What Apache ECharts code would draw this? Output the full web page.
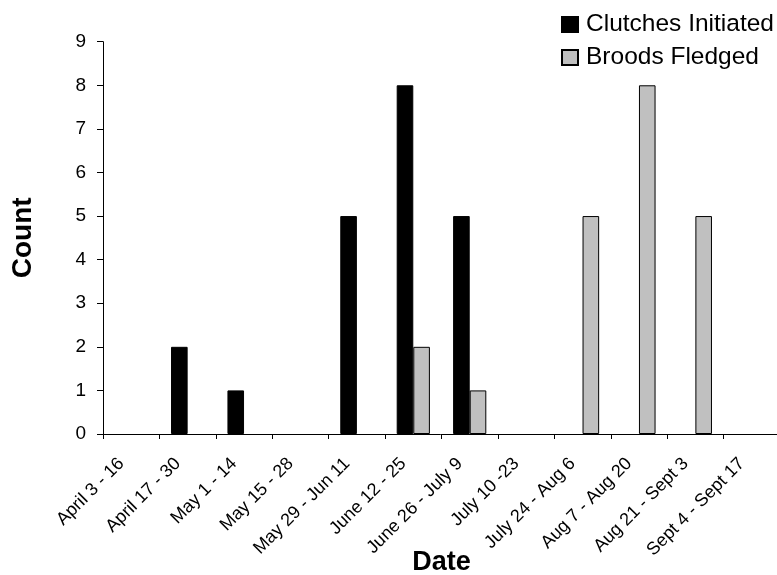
<!DOCTYPE html>
<html>
<head>
<meta charset="utf-8">
<script src="https://cdn.jsdelivr.net/npm/echarts@6/dist/echarts.min.js"></script>
<style>html,body{margin:0;padding:0;background:#fff}#c{width:777px;height:575px}</style>
</head>
<body>
<div id="c"></div>
<script>
const categories = ['April 3 - 16','April 17 - 30','May 1 - 14','May 15 - 28','May 29 - Jun 11','June 12 - 25','June 26 - July 9','July 10 -23','July 24 - Aug 6','Aug 7 - Aug 20','Aug 21 - Sept 3','Sept 4 - Sept 17'];
const clutchesInitiated = [0,2,1,0,5,8,5,0,0,0,0,0];
const broodsFledged = [0,0,0,0,0,2,1,0,5,8,5,0];
const yTicks = [0,1,2,3,4,5,6,7,8,9];

const FONT = 'Arial, "Liberation Sans", sans-serif';
// zero-count bars get no border so they do not draw a line over the axis
const toItems = arr => arr.map(v => v === 0 ? {value: v, itemStyle: {borderWidth: 0}} : v);

const chart = echarts.init(document.getElementById('c'), null, {renderer:'canvas'});
chart.setOption({
  animation:false,
  backgroundColor:'#fff',
  grid:{left:103, right:-3, top:41.7, bottom:141, containLabel:false, outerBoundsMode:'none'},
  legend:{
    orient:'vertical', left:556, top:7, itemWidth:16, itemHeight:15, itemGap:8,
    icon:'rect',
    textStyle:{fontFamily:FONT, fontSize:24.5, color:'#000', padding:[0,0,0,3]},
    data:['Clutches Initiated','Broods Fledged']
  },
  xAxis:{
    type:'category', data:categories,
    name:'Date', nameLocation:'middle', nameGap:115, nameMoveOverlap:false,
    nameTextStyle:{fontFamily:FONT, fontSize:27, fontWeight:'bold', color:'#000'},
    axisLine:{lineStyle:{color:'#000', width:1}},
    axisTick:{show:true, length:5, lineStyle:{color:'#000'}},
    axisLabel:{rotate:45, margin:17, padding:[0,14,0,0], fontFamily:FONT, fontSize:18, color:'#000', interval:0},
    splitLine:{show:false}
  },
  yAxis:{
    type:'value', min:yTicks[0], max:yTicks[yTicks.length-1], interval:1,
    name:'Count', nameLocation:'middle', nameGap:66, nameMoveOverlap:false,
    nameTextStyle:{fontFamily:FONT, fontSize:28, fontWeight:'bold', color:'#000'},
    axisLine:{show:true, lineStyle:{color:'#000', width:1}},
    axisTick:{show:true, length:6, lineStyle:{color:'#000'}},
    axisLabel:{margin:17, fontFamily:FONT, fontSize:19, color:'#000'},
    splitLine:{show:false}
  },
  series:[
    {name:'Clutches Initiated', type:'bar', data:toItems(clutchesInitiated), barWidth:16.6, barGap:'0%',
     itemStyle:{color:'#000', borderColor:'#000', borderWidth:1}},
    {name:'Broods Fledged', type:'bar', data:toItems(broodsFledged), barWidth:16.6, barGap:'0%',
     itemStyle:{color:'#c0c0c0', borderColor:'#000', borderWidth:1}}
  ]
});
</script>
</body>
</html>
